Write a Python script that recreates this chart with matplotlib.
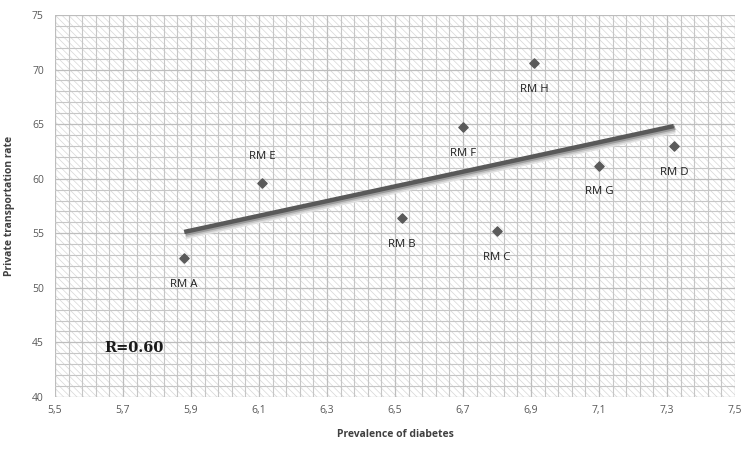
import numpy as np
import matplotlib
matplotlib.use("Agg")
from matplotlib import pyplot as plt
import matplotlib.patches as mpatches
from matplotlib.ticker import FixedLocator, FuncFormatter

plt.rcParams['font.family'] = ['Open Sans', 'DejaVu Sans']
plt.rcParams['hatch.linewidth'] = 0.5

# data
labels = ['RM A', 'RM E', 'RM B', 'RM F', 'RM C', 'RM H', 'RM G', 'RM D']
prevalence = [5.88, 6.11, 6.52, 6.70, 6.80, 6.91, 7.10, 7.32]
private_rate = [52.7, 59.6, 56.4, 64.7, 55.2, 70.6, 61.2, 63.0]
label_above = ['RM E']

fig = plt.figure(figsize=(7.56, 4.54), dpi=100)
ax = fig.add_axes([0.0728, 0.1256, 0.8994, 0.8414])
ax.set_xlim(5.5, 7.5)
ax.set_ylim(40, 75)

# hatched background
bg = mpatches.Rectangle((0, 0), 1, 1, transform=ax.transAxes, facecolor='white',
                        edgecolor='#d6d6d6', linewidth=0, hatch='\\\\\\\\\\', zorder=0)
ax.add_patch(bg)

ax.xaxis.set_major_locator(FixedLocator(np.arange(5.5, 7.501, 0.2)))
ax.xaxis.set_minor_locator(FixedLocator(np.arange(5.5, 7.501, 0.04)))
ax.yaxis.set_major_locator(FixedLocator(np.arange(40, 75.1, 5)))
ax.yaxis.set_minor_locator(FixedLocator(np.arange(40, 75.1, 1)))
ax.xaxis.set_major_formatter(FuncFormatter(lambda v, p: f"{v:.1f}".replace('.', ',')))
ax.yaxis.set_major_formatter(FuncFormatter(lambda v, p: f"{v:.0f}"))
ax.grid(which='major', color='#bdbdbd', linewidth=0.9, zorder=1)
ax.grid(which='minor', color='#c6c6c6', linewidth=0.8, zorder=1)
ax.set_axisbelow(True)
for s in ax.spines.values():
    s.set_visible(False)
ax.tick_params(which='both', length=0, labelsize=7.5, labelcolor='#595959')
ax.tick_params(axis='x', pad=6)
ax.tick_params(axis='y', pad=8)

# trend line with shadow
slope, intercept = np.polyfit(prevalence, private_rate, 1)
xs = np.array([min(prevalence), max(prevalence)])
for off, col in [(0.45, '#e0e0e0'), (0.3, '#c4c4c4'), (0.15, '#9a9a9a')]:
    ax.plot(xs + 0.004, slope * xs + intercept - off, color=col, linewidth=3.2,
            solid_capstyle='butt', zorder=2)
ax.plot(xs, slope * xs + intercept, color='#595959', linewidth=3.2,
        solid_capstyle='butt', zorder=3)

ax.scatter(prevalence, private_rate, marker='D', s=22, color='#5a5a5a', zorder=4)
for lab, x, y in zip(labels, prevalence, private_rate):
    dy = 19 if lab in label_above else -19
    ax.annotate(lab, (x, y), xytext=(0, dy), textcoords='offset points',
                ha='center', va='center', fontsize=8.2, color='#1e1e1e', zorder=5)

ax.text(5.645, 44.5, 'R=0.60', fontsize=10.5, fontweight='bold', family='DejaVu Serif',
        color='#1a1a1a', va='center', ha='left')

ax.set_xlabel('Prevalence of diabetes', fontsize=7.5, fontweight='bold', color='#404040', labelpad=9)
ax.set_ylabel('Private transportation rate', fontsize=7.5, fontweight='bold', color='#404040', labelpad=12)

fig.savefig('out.png', dpi=100)
